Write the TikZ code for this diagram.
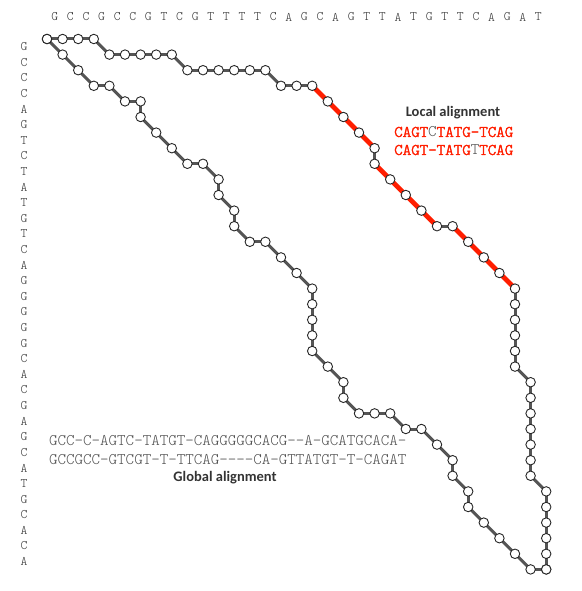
\documentclass[tikz,border=0pt]{standalone}
\usepackage{fontspec}
\setmainfont{Carlito}
\newfontfamily\monofont{Latin Modern Mono Light}
\newfontfamily\monoboldfont{Latin Modern Mono Light}[FakeBold=2.6]
\pgfdeclarelayer{bg}
\pgfsetlayers{bg,main}
\definecolor{pathgray}{HTML}{555555}
\definecolor{locred}{HTML}{FF1E00}
\definecolor{seqgray}{HTML}{333333}
\definecolor{aligngray}{HTML}{505050}
\definecolor{labelgray}{HTML}{333333}
\begin{document}
\begin{tikzpicture}[x=1pt,y=-1pt,
  dot/.style={circle,draw=black!85,fill=white,line width=0.9pt,minimum size=9.5pt,inner sep=0pt},
  gline/.style={draw=pathgray,line width=3pt},
  rline/.style={draw=locred,line width=4.8pt},
  seq/.style={font=\monofont\fontsize{13}{13}\selectfont,text=seqgray,inner sep=0pt},
  alntext/.style={font=\monofont\fontsize{16.2}{16.2}\selectfont,text=aligngray,inner sep=0pt,anchor=west},
  loctext/.style={font=\monoboldfont\fontsize{16.2}{16.2}\selectfont,text=locred,inner sep=0pt,anchor=west},
  caption/.style={font=\bfseries\fontsize{14.5}{14.5}\selectfont,text=labelgray,inner sep=0pt}]
\useasboundingbox (0,0) rectangle (581,591);

% sequence letters
\foreach \ch [count=\k] in {G,C,C,G,C,C,G,T,C,G,T,T,T,T,C,A,G,C,A,G,T,T,A,T,G,T,T,C,A,G,A,T}
  \node[seq] (t\k) at ({47+15.6*(\k-0.5)},17) {\ch};
\foreach \ch [count=\k] in {G,C,C,C,A,G,T,C,T,A,T,G,T,C,A,G,G,G,G,G,C,A,C,G,A,G,C,A,T,G,C,A,C,A}
  \node[seq] (l\k) at (24,{39+15.6*(\k-0.5)}) {\ch};

% global alignment path
\foreach \r/\c [count=\n from 0] in {0/0,1/1,2/2,3/3,3/4,4/5,4/6,5/6,6/7,7/8,8/9,8/10,9/11,10/11,11/12,12/12,13/13,13/14,14/15,15/16,16/17,17/17,18/17,19/17,20/17,21/18,22/19,23/19,24/20,24/21,24/22,25/23,25/24,26/25,27/26,28/26,29/27,30/27,31/28,32/29,33/30,34/31,34/32}
  \node[dot] (g\n) at ({47+15.6*\c},{39+15.6*\r}) {};

% upper path (with local alignment)
\foreach \r/\c [count=\n from 0] in {0/0,0/1,0/2,0/3,1/4,1/5,1/6,1/7,1/8,2/9,2/10,2/11,2/12,2/13,2/14,3/15,3/16,3/17,4/18,5/19,6/20,7/21,8/21,9/22,10/23,11/24,12/25,12/26,13/27,14/28,15/29,16/30,17/30,18/30,19/30,20/30,21/30,22/31,23/31,24/31,25/31,26/31,27/31,28/31,29/32,30/32,31/32,32/32,33/32,34/32}
  \node[dot] (u\n) at ({47+15.6*\c},{39+15.6*\r}) {};

\begin{pgfonlayer}{bg}
  \foreach \n [remember=\n as \p (initially 0)] in {1,...,42}
    \draw[gline] (g\p.center) -- (g\n.center);
  \foreach \n [remember=\n as \p (initially 0)] in {1,...,49}
    \draw[gline] (u\p.center) -- (u\n.center);
  \foreach \a/\b in {17/18,18/19,19/20,20/21,22/23,23/24,24/25,25/26,27/28,28/29,29/30,30/31}
    \draw[rline] (u\a.center) -- (u\b.center);
\end{pgfonlayer}

% local alignment text
\node[caption] (loccap) at (453,113) {Local alignment};
\node[loctext] (loc1) at (394,132) {CAGT{\monofont\color{aligngray}C}TATG-TCAG};
\node[loctext] (loc2) at (394,150) {CAGT-TATG{\monofont\color{aligngray}T}TCAG};

% global alignment text
\node[alntext] (glob1) at (49,441) {GCC-C-AGTC-TATGT-CAGGGGGCACG--A-GCATGCACA-};
\node[alntext] (glob2) at (49,460) {GCCGCC-GTCGT-T-TTCAG----CA-GTTATGT-T-CAGAT};
\node[caption] (globcap) at (225,478) {Global alignment};
\end{tikzpicture}
\end{document}
